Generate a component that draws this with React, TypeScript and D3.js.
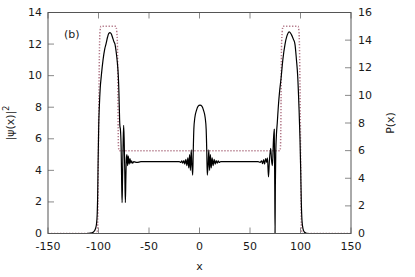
import React from "react";
import * as d3 from "d3";

const xTicks = [-150, -100, -50, 0, 50, 100, 150];
const yTicks = [0, 2, 4, 6, 8, 10, 12, 14];
const y2Ticks = [0, 2, 4, 6, 8, 10, 12, 14, 16];

// |psi(x)|^2
const psiX = [
  -150, -112, -108, -105, -103, -102, -101.3, -100.8, -100.4, -99.8, -99.2, -98.3, -97.2, -95.5, -93.8, -92.6, -91, -89.8, -88.6, -87.4, -86, -84.7, -83.7, -82.5, -81.3, -80.4, -79.8, -79.4, -79.1, -78.8, -78.3, -77.6, -77, -76.6, -76.2, -75.6, -75.1, -74.6, -74, -73.4, -72.9, -72.4, -71.8, -71.2, -70.5, -69.6, -68.8, -68, -67.2, -66.2, -65, -62, -58,
  -40, -20, -18.5, -17.5, -16.5, -15.5, -14.5, -13.5, -12.5, -11.5, -10.6, -9.8, -9.0, -8.2, -7.5, -6.7, -6.2, -5.6, -4.6, -3, -1.5, 0.5, 2.5, 4, 5.6, 6.6, 7.2, 7.7, 8.5, 9.2, 10, 10.8, 11.6, 12.5, 13.5, 14.5, 15.5, 16.5, 17.5, 18.5, 19.5, 21,
  40, 58, 60, 61.5, 62.5, 63.5, 64.5, 65.5, 66.5, 67.3, 68.3, 69.2, 70.5, 71.4, 72.2, 73.2, 74.0, 74.5, 74.8, 75.1, 75.5, 76.2, 77, 78, 79.3, 80.7, 82.5, 84.7, 86.5, 88.9, 91, 93, 94.5, 96, 97.2, 98.5, 99.5, 100.2, 100.8, 101.5, 102.5, 104, 106, 108, 150,
];
const psiY = [
  0, 0, 0.02, 0.1, 0.3, 0.6, 1.2, 2.5, 4.5, 6.8, 8.0, 9.2, 10.0, 11.0, 11.7, 12.0, 12.45, 12.68, 12.73, 12.65, 12.4, 12.15, 12.0, 11.5, 10.8, 10.0, 9.0, 8.0, 7.2, 6.8, 6.6, 5.5, 3.0, 1.95, 3.5, 5.8, 6.85, 6.0, 4.0, 1.95, 3.5, 4.8, 5.0, 4.3, 4.9, 4.4, 4.75, 4.45, 4.6, 4.45, 4.55, 4.5, 4.55,
  4.55, 4.55, 4.5, 4.6, 4.45, 4.62, 4.4, 4.7, 4.3, 4.8, 4.15, 5.0, 4.0, 5.3, 4.3, 3.7, 5.2, 6.6, 7.35, 7.8, 8.05, 8.13, 8.05, 7.8, 7.35, 6.6, 5.2, 3.7, 4.3, 5.3, 4.0, 5.0, 4.15, 4.8, 4.3, 4.7, 4.4, 4.62, 4.45, 4.6, 4.5, 4.55,
  4.55, 4.55, 4.5, 4.6, 4.42, 4.68, 4.4, 4.75, 4.5, 4.8, 3.58, 4.6, 5.4, 4.6, 4.3, 5.9, 6.6, 3.0, 0.02, 3.0, 5.0, 6.3, 7.0, 8.0, 9.0, 9.8, 11.0, 12.0, 12.5, 12.77, 12.6, 12.3, 12.0, 11.0, 10.0, 8.0, 6.0, 4.0, 2.0, 0.8, 0.3, 0.08, 0.01, 0, 0,
];

// P(x)
const pX = [
  -150, -101.5, -101, -100.6, -100.2, -99.6, -99.0, -98.5, -97.6, -82.8, -81.9, -81.2, -80.8, -80.5, -80.2, -79.6,
  79.6, 80.2, 80.5, 80.8, 81.2, 81.9, 82.8, 97.6, 98.5, 99.0, 99.6, 100.2, 100.6, 101, 101.5, 150,
];
const pY = [
  0, 0, 0.3, 1.5, 5, 10, 13.5, 14.6, 15, 15, 14.6, 13.5, 10, 7.5, 6.3, 6,
  6, 6.3, 7.5, 10, 13.5, 14.6, 15, 15, 14.6, 13.5, 10, 5, 1.5, 0.3, 0, 0,
];

const W = 415;
const H = 277;
const L = 48;
const R = 351;
const T = 12.5;
const B = 233.5;

export default function App() {
  const x = d3.scaleLinear().domain([-150, 150]).range([L, R]);
  const y = d3.scaleLinear().domain([0, 14]).range([B, T]);
  const y2 = d3.scaleLinear().domain([0, 16]).range([B, T]);

  const psiLine = d3
    .line<number>()
    .x((_, i) => x(psiX[i]))
    .y((d) => y(d))
    .curve(d3.curveMonotoneX);
  const pLine = d3
    .line<number>()
    .x((_, i) => x(pX[i]))
    .y((d) => y2(d))
    .curve(d3.curveMonotoneX);

  const font = "DejaVu Sans, sans-serif";
  const tickColor = "#8a8a8a";
  const textColor = "#1a1a1a";
  const tl = 6;

  return (
    <svg
      width={W}
      height={H}
      style={{ position: "absolute", left: 0, top: 0, background: "#fff" }}
      fontFamily={font}
      fontSize={11}
    >
      <defs>
        <clipPath id="plot">
          <rect x={L} y={T - 2} width={R - L} height={B - T + 2} />
        </clipPath>
      </defs>
      {xTicks.map((t) => (
        <g key={"x" + t}>
          <line x1={x(t)} x2={x(t)} y1={B} y2={B - tl} stroke={tickColor} />
          <line x1={x(t)} x2={x(t)} y1={T} y2={T + tl} stroke={tickColor} />
          <text x={x(t)} y={246.5} textAnchor="middle" dominantBaseline="central" fill={textColor}>
            {t}
          </text>
        </g>
      ))}
      {yTicks.map((t) => (
        <g key={"y" + t}>
          <line x1={L} x2={L + tl} y1={y(t)} y2={y(t)} stroke={tickColor} />
          <text x={42} y={y(t)} textAnchor="end" dominantBaseline="central" fill={textColor}>
            {t}
          </text>
        </g>
      ))}
      {y2Ticks.map((t) => (
        <g key={"y2" + t}>
          <line x1={R} x2={R - tl} y1={y2(t)} y2={y2(t)} stroke={tickColor} />
          <text x={358} y={y2(t)} textAnchor="start" dominantBaseline="central" fill={textColor}>
            {t}
          </text>
        </g>
      ))}
      <g clipPath="url(#plot)">
        <path
          d={pLine(pY) || ""}
          fill="none"
          stroke="#b27888"
          strokeWidth={1.5}
          strokeDasharray="1.3,1.7"
        />
        <path d={psiLine(psiY) || ""} fill="none" stroke="#000" strokeWidth={1.2} />
      </g>
      <rect x={L} y={T} width={R - L} height={B - T} fill="none" stroke="#555" strokeWidth={1} />
      <text x={199.5} y={266.5} textAnchor="middle" dominantBaseline="central" fill={textColor}>
        x
      </text>
      <text
        transform={`translate(10,123) rotate(-90)`}
        textAnchor="middle"
        dominantBaseline="central"
        fill={textColor}
      >
        |ψ(x)|<tspan fontSize={8} dy={-4}>2</tspan>
      </text>
      <text
        transform={`translate(390,123) rotate(-90)`}
        textAnchor="middle"
        dominantBaseline="central"
        fill={textColor}
      >
        P(x)
      </text>
      <text x={64} y={34.5} dominantBaseline="central" fill={textColor}>
        (b)
      </text>
    </svg>
  );
}
